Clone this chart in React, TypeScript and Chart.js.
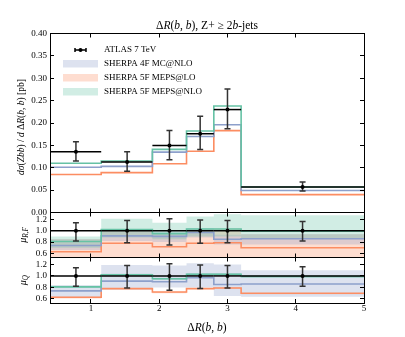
import React, { useEffect, useRef } from 'react';
import { Chart, registerables } from 'chart.js';

Chart.register(...registerables);

const W = 405;
const H = 337;
const SERIF = 'Liberation Serif';

// ---------------- data ----------------
const binEdges = [0.4, 1.15, 1.9, 2.4, 2.8, 3.2, 5.0];
const dataX = [0.78, 1.53, 2.15, 2.6, 3.0, 4.1];
const dataY = [0.136, 0.113, 0.15, 0.176, 0.23, 0.057];
const dataHi = [0.158, 0.136, 0.183, 0.215, 0.276, 0.068];
const dataLo = [0.115, 0.092, 0.118, 0.141, 0.187, 0.048];

const mc4F = [0.101, 0.103, 0.135, 0.17, 0.196, 0.049]; // SHERPA 4F MC@NLO
const meps5FLO = [0.085, 0.089, 0.109, 0.137, 0.183, 0.04]; // SHERPA 5F MEPS@LO
const meps5FNLO = [0.11, 0.115, 0.141, 0.182, 0.238, 0.057]; // SHERPA 5F MEPS@NLO

// ratio to data, central values
const rMc4F = [0.74, 0.91, 0.9, 0.97, 0.85, 0.86];
const rLO = [0.63, 0.78, 0.72, 0.78, 0.79, 0.7];
const rNLO = [0.81, 1.02, 0.95, 1.03, 1.03, 0.99];

const ratioData = [1, 1, 1, 1, 1, 1];
const ratioDataHi = [1.14, 1.18, 1.21, 1.19, 1.18, 1.16];
const ratioDataLo = [0.82, 0.79, 0.75, 0.78, 0.79, 0.82];

// mu_R,F variation bands
const rfNLOLo = [0.7, 0.88, 0.85, 0.9, 0.9, 0.86];
const rfNLOHi = [0.9, 1.21, 1.14, 1.25, 1.29, 1.27];
const rfMcLo = [0.66, 0.82, 0.8, 0.88, 0.76, 0.76];
const rfMcHi = [0.85, 1.02, 0.98, 1.05, 0.93, 0.94];
const rfLOLo = [0.45, 0.5, 0.5, 0.5, 0.5, 0.45];
const rfLOHi = [0.85, 1.03, 0.96, 1.03, 1.04, 0.94];

// mu_Q variation bands
const qMcLo = [0.63, 0.76, 0.8, 0.8, 0.65, 0.64];
const qMcHi = [0.84, 1.19, 1.18, 1.22, 1.2, 1.1];
const qNLOLo = [0.79, 1.0, 0.93, 1.01, 1.01, 0.97];
const qNLOHi = [0.83, 1.04, 0.97, 1.05, 1.05, 1.01];
const qLOLo = [0.61, 0.77, 0.7, 0.77, 0.78, 0.68];
const qLOHi = [0.64, 0.79, 0.72, 0.79, 0.8, 0.7];

const xTicks = [1, 2, 3, 4, 5];
const mainYTicks = [0, 0.05, 0.1, 0.15, 0.2, 0.25, 0.3, 0.35, 0.4];
const ratioYTicks = [0.6, 0.8, 1.0, 1.2];
const legendLabels = ['ATLAS 7 TeV', 'SHERPA 4F MC@NLO', 'SHERPA 5F MEPS@LO', 'SHERPA 5F MEPS@NLO'];

// ---------------- styles ----------------
const GREEN = '#66c2a5';
const ORANGE = '#fc8d62';
const BLUE = '#8da0cb';
const GREEN_A = 'rgba(102,194,165,0.3)';
const ORANGE_A = 'rgba(252,141,98,0.3)';
const BLUE_A = 'rgba(141,160,203,0.3)';

const PLOT_LEFT = 50;
const PLOT_RIGHT = 364;
const MAIN_TOP = 33.5;
const MAIN_BOTTOM = 212.5;
const RF_BOTTOM = 257.5;
const Q_BOTTOM = 303;
const X_AXIS_H = 16;

type Part = [string, string];

const crisp = (v: number) => Math.round(v - 0.5) + 0.5;

function drawRich(ctx: CanvasRenderingContext2D, parts: Part[], x: number, y: number, size: number, rot = 0) {
  const fontOf = (st: string) => {
    const sz = st === 's' ? size * 0.72 : size;
    return `${st === 'i' || st === 's' ? 'italic ' : ''}${sz}px "${SERIF}"`;
  };
  ctx.save();
  ctx.translate(x, y);
  ctx.rotate(rot);
  let total = 0;
  for (const [t, st] of parts) {
    ctx.font = fontOf(st);
    total += ctx.measureText(t).width;
  }
  let cx = -total / 2;
  ctx.textBaseline = 'alphabetic';
  ctx.textAlign = 'left';
  ctx.fillStyle = '#000';
  for (const [t, st] of parts) {
    ctx.font = fontOf(st);
    ctx.fillText(t, cx, st === 's' ? size * 0.35 + size * 0.22 : size * 0.35);
    cx += ctx.measureText(t).width;
  }
  ctx.restore();
}

const steps = (vals: number[]) => [
  ...vals.map((v, i) => ({ x: binEdges[i], y: v })),
  { x: binEdges[binEdges.length - 1], y: vals[vals.length - 1] },
];

const stepLine = (vals: number[], color: string, order: number) => ({
  data: steps(vals),
  borderColor: color,
  borderWidth: 1.6,
  stepped: 'before',
  pointRadius: 0,
  fill: false,
  order,
});

const band = (lo: number[], hi: number[], color: string, order: number) => [
  { data: steps(lo), borderWidth: 0, borderColor: 'rgba(0,0,0,0)', pointRadius: 0, stepped: 'before', fill: false, order, clip: 0 },
  { data: steps(hi), borderWidth: 0, borderColor: 'rgba(0,0,0,0)', backgroundColor: color, pointRadius: 0, stepped: 'before', fill: '-1', order, clip: 0 },
];

function framePlugin(yTicks: number[]) {
  return {
    id: 'frame',
    afterDraw(chart: any) {
      const { ctx, chartArea: a, scales } = chart;
      const xs = scales.x;
      const ys = scales.y;
      ctx.save();
      ctx.strokeStyle = '#000';
      ctx.lineWidth = 1;
      ctx.beginPath();
      for (const v of xTicks) {
        const px = crisp(xs.getPixelForValue(v));
        ctx.moveTo(px, a.top);
        ctx.lineTo(px, a.top + 4);
        ctx.moveTo(px, a.bottom);
        ctx.lineTo(px, a.bottom - 4);
      }
      for (const v of yTicks) {
        const py = crisp(ys.getPixelForValue(v));
        ctx.moveTo(a.left, py);
        ctx.lineTo(a.left + 4, py);
        ctx.moveTo(a.right, py);
        ctx.lineTo(a.right - 4, py);
      }
      ctx.stroke();
      ctx.strokeRect(crisp(a.left), crisp(a.top), Math.round(a.right - a.left), Math.round(a.bottom - a.top));
      ctx.restore();
    },
  };
}

function errorPlugin(ys: number[], his: number[], los: number[]) {
  return {
    id: 'errbars',
    afterDatasetsDraw(chart: any) {
      const { ctx, scales } = chart;
      const x = scales.x;
      const y = scales.y;
      ctx.save();
      ctx.lineWidth = 1.5;
      for (let i = 0; i < dataX.length; i++) {
        const xc = x.getPixelForValue(dataX[i]);
        const x0 = x.getPixelForValue(binEdges[i]);
        const x1 = x.getPixelForValue(binEdges[i + 1]);
        const yc = y.getPixelForValue(ys[i]);
        const yh = y.getPixelForValue(his[i]);
        const yl = y.getPixelForValue(los[i]);
        ctx.strokeStyle = '#000';
        ctx.beginPath();
        ctx.moveTo(x0, yc);
        ctx.lineTo(x1, yc);
        ctx.stroke();
        ctx.strokeStyle = '#333';
        ctx.beginPath();
        ctx.moveTo(xc, yh);
        ctx.lineTo(xc, yl);
        ctx.moveTo(xc - 3, yh);
        ctx.lineTo(xc + 3, yh);
        ctx.moveTo(xc - 3, yl);
        ctx.lineTo(xc + 3, yl);
        ctx.stroke();
        ctx.fillStyle = '#000';
        ctx.beginPath();
        ctx.arc(xc, yc, 2, 0, Math.PI * 2);
        ctx.fill();
      }
      ctx.restore();
    },
  };
}

const titleParts: Part[] = [
  ['Δ', 'n'], ['R', 'i'], ['(', 'n'], ['b', 'i'], [', ', 'n'], ['b', 'i'], ['), Z+ ≥ 2', 'n'], ['b', 'i'], ['-jets', 'n'],
];
const yMainParts: Part[] = [
  ['dσ', 'i'], ['(', 'n'], ['Zbb', 'i'], [')', 'n'], [' / ', 'n'], ['d', 'i'], [' Δ', 'n'], ['R', 'i'], ['(', 'n'], ['b', 'i'], [', ', 'n'], ['b', 'i'], [')', 'n'], [' [pb]', 'n'],
];
const xTitleParts: Part[] = [['Δ', 'n'], ['R', 'i'], ['(', 'n'], ['b', 'i'], [', ', 'n'], ['b', 'i'], [')', 'n']];
const rfParts: Part[] = [['μ', 'i'], ['R,F', 's']];
const qParts: Part[] = [['μ', 'i'], ['Q', 's']];

const mainTextPlugin = {
  id: 'mainText',
  afterDraw(chart: any) {
    const ctx = chart.ctx as CanvasRenderingContext2D;
    drawRich(ctx, titleParts, 207, 25, 11.5);
    drawRich(ctx, yMainParts, 21, 127, 9.5, -Math.PI / 2);
    // legend
    ctx.save();
    ctx.strokeStyle = '#000';
    ctx.lineWidth = 1.5;
    ctx.beginPath();
    ctx.moveTo(75, 50);
    ctx.lineTo(86, 50);
    ctx.moveTo(75, 48);
    ctx.lineTo(75, 52);
    ctx.moveTo(86, 48);
    ctx.lineTo(86, 52);
    ctx.stroke();
    ctx.fillStyle = '#000';
    ctx.beginPath();
    ctx.arc(80.5, 50, 2, 0, Math.PI * 2);
    ctx.fill();
    const patchColors = [BLUE_A, ORANGE_A, GREEN_A];
    patchColors.forEach((c, i) => {
      ctx.fillStyle = c;
      ctx.fillRect(63, 60 + i * 14, 35, 7.5);
    });
    ctx.fillStyle = '#000';
    ctx.font = `9px "${SERIF}"`;
    ctx.textBaseline = 'middle';
    ctx.textAlign = 'left';
    legendLabels.forEach((t, i) => ctx.fillText(t, 104, 50 + i * 14));
    ctx.restore();
  },
};

const yScaleBase = (min: number, max: number, ticks: number[], digits: number) => ({
  type: 'linear',
  min,
  max,
  afterFit: (s: any) => {
    s.width = PLOT_LEFT;
    s.paddingTop = 0;
    s.paddingBottom = 0;
  },
  afterBuildTicks: (s: any) => {
    s.ticks = ticks.map((v) => ({ value: v }));
  },
  grid: { display: false, drawTicks: false },
  border: { display: false },
  ticks: {
    autoSkip: false,
    padding: 3,
    color: '#000',
    font: { family: SERIF, size: 9 },
    callback: (v: any) => Number(v).toFixed(digits),
  },
});

function mainConfig(): any {
  return {
    type: 'line',
    data: {
      datasets: [
        stepLine(meps5FNLO, GREEN, 1),
        stepLine(mc4F, BLUE, 2),
        stepLine(meps5FLO, ORANGE, 3),
      ],
    },
    options: {
      responsive: false,
      animation: false,
      events: [],
      layout: { padding: { left: 0, right: W - PLOT_RIGHT, top: MAIN_TOP, bottom: H - MAIN_BOTTOM } },
      plugins: { legend: { display: false }, tooltip: { enabled: false }, title: { display: false } },
      scales: {
        x: { type: 'linear', min: 0.4, max: 5, display: false },
        y: yScaleBase(0, 0.4, mainYTicks, 2),
      },
    },
    plugins: [errorPlugin(dataY, dataHi, dataLo), framePlugin(mainYTicks), mainTextPlugin],
  };
}

function ratioConfig(kind: 'rf' | 'q'): any {
  const top = kind === 'rf' ? MAIN_BOTTOM : RF_BOTTOM;
  const bottom = kind === 'rf' ? RF_BOTTOM : Q_BOTTOM;
  const bands =
    kind === 'rf'
      ? [...band(rfNLOLo, rfNLOHi, GREEN_A, 10), ...band(rfMcLo, rfMcHi, BLUE_A, 11), ...band(rfLOLo, rfLOHi, ORANGE_A, 12)]
      : [...band(qMcLo, qMcHi, BLUE_A, 10), ...band(qNLOLo, qNLOHi, GREEN_A, 11), ...band(qLOLo, qLOHi, ORANGE_A, 12)];
  const textPlugin = {
    id: 'ratioText',
    afterDraw(chart: any) {
      const ctx = chart.ctx as CanvasRenderingContext2D;
      const a = chart.chartArea;
      drawRich(ctx, kind === 'rf' ? rfParts : qParts, 22, (a.top + a.bottom) / 2, 10, -Math.PI / 2);
      if (kind === 'q') drawRich(ctx, xTitleParts, 207, 326.5, 11.5);
    },
  };
  return {
    type: 'line',
    data: {
      datasets: [
        stepLine(rNLO, GREEN, 1),
        stepLine(rMc4F, BLUE, 2),
        stepLine(rLO, ORANGE, 3),
        ...bands,
      ],
    },
    options: {
      responsive: false,
      animation: false,
      events: [],
      layout: {
        padding: {
          left: 0,
          right: W - PLOT_RIGHT,
          top,
          bottom: kind === 'q' ? H - bottom - X_AXIS_H : H - bottom,
        },
      },
      plugins: { legend: { display: false }, tooltip: { enabled: false }, title: { display: false } },
      scales: {
        x:
          kind === 'q'
            ? {
                type: 'linear',
                min: 0.4,
                max: 5,
                afterFit: (s: any) => {
                  s.height = X_AXIS_H;
                  s.paddingLeft = 0;
                  s.paddingRight = 0;
                },
                afterBuildTicks: (s: any) => {
                  s.ticks = xTicks.map((v) => ({ value: v }));
                },
                grid: { display: false, drawTicks: false },
                border: { display: false },
                ticks: { autoSkip: false, padding: 0, maxRotation: 0, color: '#000', font: { family: SERIF, size: 9 }, callback: (v: any) => String(v) },
              }
            : { type: 'linear', min: 0.4, max: 5, display: false },
        y: yScaleBase(0.53, 1.32, ratioYTicks, 1),
      },
    },
    plugins: [errorPlugin(ratioData, ratioDataHi, ratioDataLo), framePlugin(ratioYTicks), textPlugin],
  };
}

export default function App() {
  const r1 = useRef<HTMLCanvasElement>(null);
  const r2 = useRef<HTMLCanvasElement>(null);
  const r3 = useRef<HTMLCanvasElement>(null);
  useEffect(() => {
    Chart.defaults.font.family = SERIF;
    const charts = [
      new Chart(r1.current as HTMLCanvasElement, mainConfig()),
      new Chart(r2.current as HTMLCanvasElement, ratioConfig('rf')),
      new Chart(r3.current as HTMLCanvasElement, ratioConfig('q')),
    ];
    return () => charts.forEach((c) => c.destroy());
  }, []);
  return (
    <div style={{ position: 'fixed', left: 0, top: 0, width: W, height: H, background: '#fff' }}>
      {[r1, r2, r3].map((r, i) => (
        <canvas key={i} ref={r} width={W} height={H} style={{ position: 'absolute', left: 0, top: 0 }} />
      ))}
    </div>
  );
}
